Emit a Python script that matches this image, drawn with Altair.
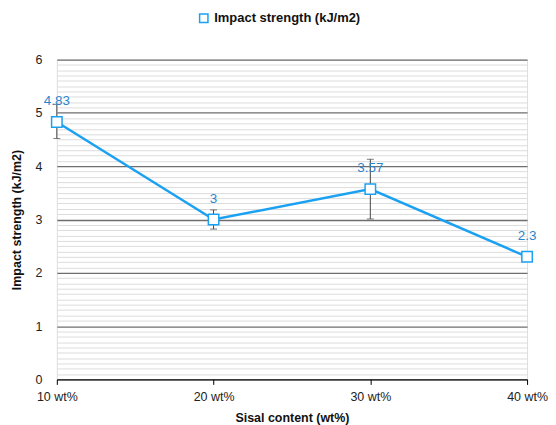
import altair as alt
import pandas as pd

sisal = [10, 20, 30, 40]
strength = [4.83, 3.0, 3.57, 2.3]
err_low = [4.52, 2.82, 3.01, 2.25]
err_high = [5.16, 3.18, 4.13, 2.35]
labels = ["4.83", "3", "3.57", "2.3"]
series = "Impact strength (kJ/m2)"

df = pd.DataFrame({
    "sisal": sisal,
    "strength": strength,
    "low": err_low,
    "high": err_high,
    "label": labels,
    "series": [series] * len(sisal),
})

grid_values = [round(i / 10, 1) for i in range(0, 61)]
BLUE = "#1ba1f2"
TXT = "#2a86cc"
FONT = "Liberation Sans"
IS_MAJOR = "abs(datum.value - round(datum.value)) < 0.001"

x = alt.X("sisal:Q",
          scale=alt.Scale(domain=[10, 40], nice=False, zero=False),
          axis=alt.Axis(values=sisal, labelExpr="datum.value + ' wt%'",
                        title="Sisal content (wt%)", grid=False,
                        domainColor="#000", tickColor="#000", tickSize=5,
                        labelPadding=6, titlePadding=9, labelFontSize=12.5,
                        titleFontSize=12.5, titleFontWeight="bold",
                        labelColor="#222", titleColor="#111",
                        labelFlush=False))
y_scale = alt.Scale(domain=[0, 6], nice=False)
y_axis = alt.Axis(values=grid_values,
                  labelExpr=IS_MAJOR + " ? format(datum.value, 'd') : ''",
                  title="Impact strength (kJ/m2)", domain=False, ticks=False,
                  gridColor={"condition": {"test": IS_MAJOR, "value": "#6e6e6e"}, "value": "#dcdcdc"},
                  gridWidth={"condition": {"test": IS_MAJOR, "value": 1.3}, "value": 1},
                  labelPadding=15, titlePadding=11, labelFontSize=12.5,
                  titleFontSize=12.5, titleFontWeight="bold",
                  labelColor="#222", titleColor="#111")

base = alt.Chart(df)

err = base.mark_errorbar(ticks=alt.MarkConfig(size=7, color="#444"), color="#444", thickness=1).encode(
    x=x,
    y=alt.Y("low:Q", scale=y_scale, axis=y_axis),
    y2="high:Q",
)

line = base.mark_line(color=BLUE, strokeWidth=2.5).encode(
    x=x, y=alt.Y("strength:Q", scale=y_scale, axis=y_axis))

pts = base.mark_point(shape="square", filled=True, fill="white", strokeWidth=1.5, size=110, opacity=1).encode(
    x=x, y=alt.Y("strength:Q", scale=y_scale, axis=y_axis),
    stroke=alt.Stroke("series:N", scale=alt.Scale(range=[BLUE]),
                      legend=alt.Legend(title=None, orient="none", legendX=141, legendY=-48,
                                        symbolType="square", symbolFillColor="white",
                                        symbolStrokeWidth=1.5, symbolSize=70,
                                        labelFontSize=13, labelFontWeight="bold",
                                        labelColor="#111", labelFont=FONT)))

txt = base.mark_text(color=TXT, fontSize=13.5, dy=-21, font=FONT).encode(
    x=x, y=alt.Y("strength:Q", scale=y_scale, axis=y_axis), text="label:N")

chart = alt.layer(line, err, pts, txt).properties(
    width=472, height=321,
    padding={"left": 3, "top": 3, "right": 0, "bottom": 0},
).configure_view(stroke=None).configure(font=FONT)

chart.save("out.html", embed_options={"renderer": "svg", "actions": False})
